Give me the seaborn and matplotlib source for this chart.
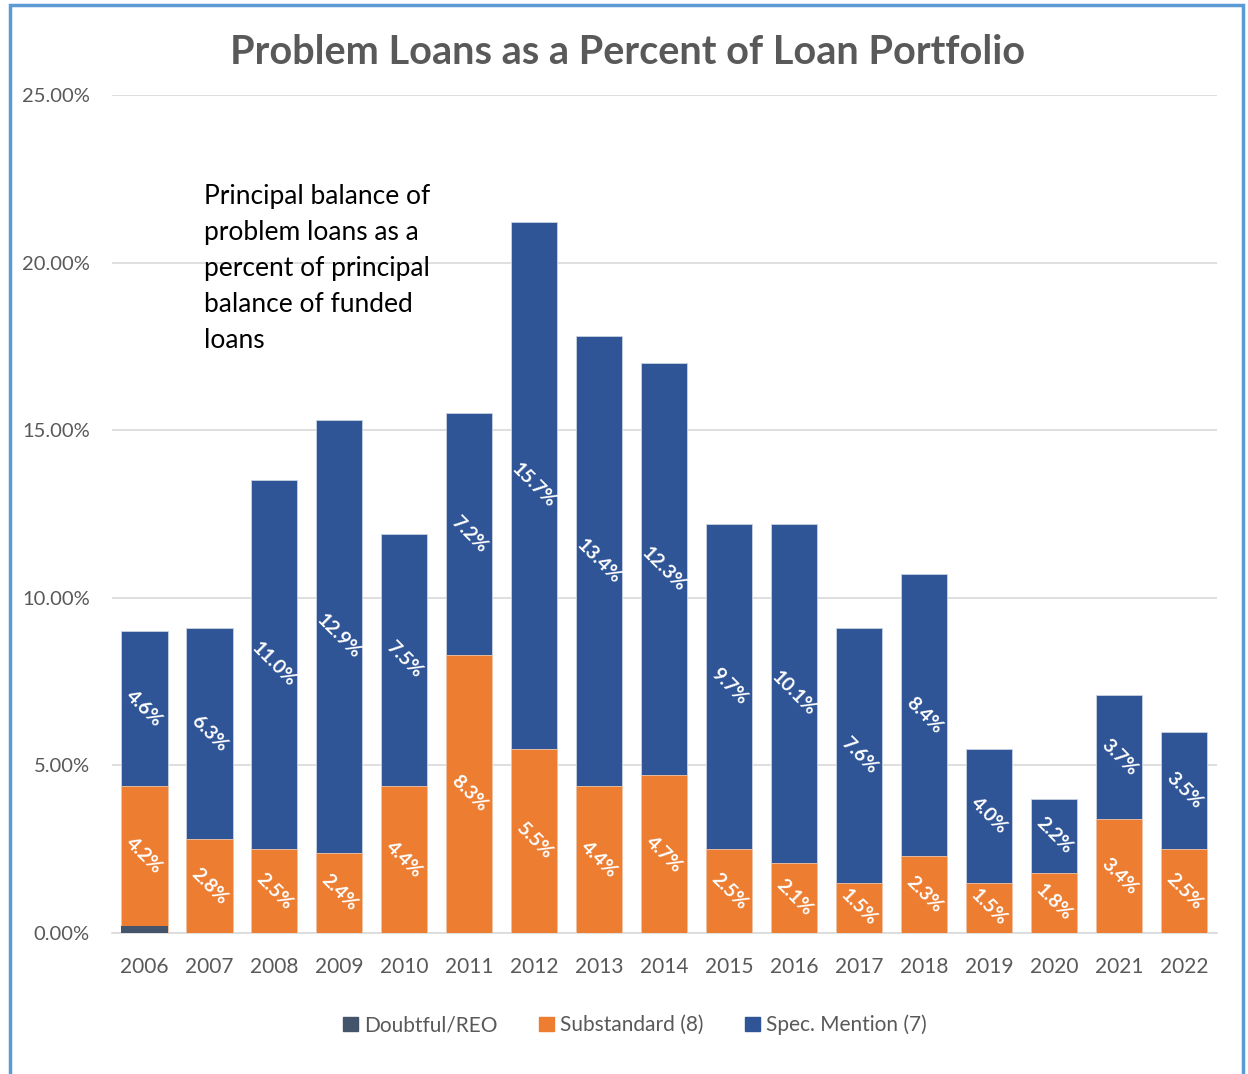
import numpy as np
import pandas as pd
import matplotlib
matplotlib.use("Agg")
import matplotlib.pyplot as plt
from matplotlib.patches import Patch, Rectangle
import seaborn as sns

# data (percent of portfolio)
years = ["2006", "2007", "2008", "2009", "2010", "2011", "2012", "2013", "2014",
         "2015", "2016", "2017", "2018", "2019", "2020", "2021", "2022"]
doubtful = [0.2, 0, 0, 0, 0, 0, 0, 0, 0, 0, 0, 0, 0, 0, 0, 0, 0]
substandard = [4.2, 2.8, 2.5, 2.4, 4.4, 8.3, 5.5, 4.4, 4.7, 2.5, 2.1, 1.5, 2.3, 1.5, 1.8, 3.4, 2.5]
spec_mention = [4.6, 6.3, 11.0, 12.9, 7.5, 7.2, 15.7, 13.4, 12.3, 9.7, 10.1, 7.6, 8.4, 4.0, 2.2, 3.7, 3.5]

c_doubt = "#44546A"
c_sub = "#ED7D31"
c_spec = "#2F5597"
grey_txt = "#595959"

df = pd.DataFrame({"year": years, "doubtful": doubtful,
                   "substandard": substandard, "spec": spec_mention})
df["lvl1"] = df["doubtful"]
df["lvl2"] = df["lvl1"] + df["substandard"]
df["lvl3"] = df["lvl2"] + df["spec"]

sns.set_style("white")
plt.rcParams["font.family"] = ["Lato", "DejaVu Sans"]

fig = plt.figure(figsize=(12.48, 10.74), dpi=100)
ax = fig.add_axes([0.0897, 0.1313, 0.8853, 0.7802])

# stacked bars: draw cumulative totals from the top down
bw = 0.71
sns.barplot(data=df, x="year", y="lvl3", color=c_spec, width=bw, saturation=1,
            edgecolor="#c9d3e3", linewidth=0.6, ax=ax, zorder=3)
sns.barplot(data=df, x="year", y="lvl2", color=c_sub, width=bw, saturation=1,
            edgecolor="#f3c7a8", linewidth=0.6, ax=ax, zorder=3)
sns.barplot(data=df, x="year", y="lvl1", color=c_doubt, width=bw, saturation=1,
            linewidth=0, ax=ax, zorder=3)

# value labels, rotated like the original
for i, row in df.iterrows():
    ax.text(i, (row["lvl1"] + row["lvl2"]) / 2, f"{row['substandard']:.1f}%",
            rotation=-45, ha="center", va="center", color="white",
            fontsize=14, fontweight="bold", zorder=5)
    ax.text(i, (row["lvl2"] + row["lvl3"]) / 2, f"{row['spec']:.1f}%",
            rotation=-45, ha="center", va="center", color="white",
            fontsize=14, fontweight="bold", zorder=5)

ax.set_ylim(0, 25)
ax.set_xlim(-0.5, len(years) - 0.5)
ax.set_yticks(np.arange(0, 25.1, 5))
ax.set_yticklabels([f"{v:.2f}%" for v in np.arange(0, 25.1, 5)])
ax.yaxis.grid(True, color="#d9d9d9", linewidth=1.2, zorder=0)
ax.set_axisbelow(True)
ax.set_xlabel("")
ax.set_ylabel("")
for s in ["top", "right", "left"]:
    ax.spines[s].set_visible(False)
ax.spines["bottom"].set_color("#d9d9d9")
ax.spines["bottom"].set_linewidth(1.2)

# ticks between categories on x axis
ax.set_xticks(np.arange(-0.5, len(years), 1), minor=True)
ax.tick_params(axis="x", which="minor", length=9, color="#d9d9d9", width=1.2)
ax.tick_params(axis="x", which="major", length=0, pad=17, labelsize=15, labelcolor=grey_txt)
ax.tick_params(axis="y", length=0, pad=16, labelsize=14.5, labelcolor=grey_txt)

ax.text(0.92, 22.35, "Principal balance of\nproblem loans as a\npercent of principal\nbalance of funded\nloans",
        fontsize=19, color="black", ha="left", va="top", linespacing=1.55)

fig.text(0.503, 0.951, "Problem Loans as a Percent of Loan Portfolio",
         ha="center", va="center", fontsize=28.5, fontweight="bold", color=grey_txt)

handles = [Patch(color=c_doubt, label="Doubtful/REO"),
           Patch(color=c_sub, label="Substandard (8)"),
           Patch(color=c_spec, label="Spec. Mention (7)")]
fig.legend(handles=handles, loc="center", bbox_to_anchor=(0.509, 0.0456), ncol=3,
           frameon=False, fontsize=15, handlelength=0.7, handleheight=0.7,
           handletextpad=0.3, columnspacing=2.0, labelcolor=grey_txt)

# blue outline around the chart area
fig.patches.append(Rectangle((10 / 1248, -0.02), 1233 / 1248, 1 - 5 / 1074 + 0.02,
                             transform=fig.transFigure, fill=False,
                             edgecolor="#5B9BD5", linewidth=2.5))

fig.savefig("out.png", dpi=100, facecolor="white")
